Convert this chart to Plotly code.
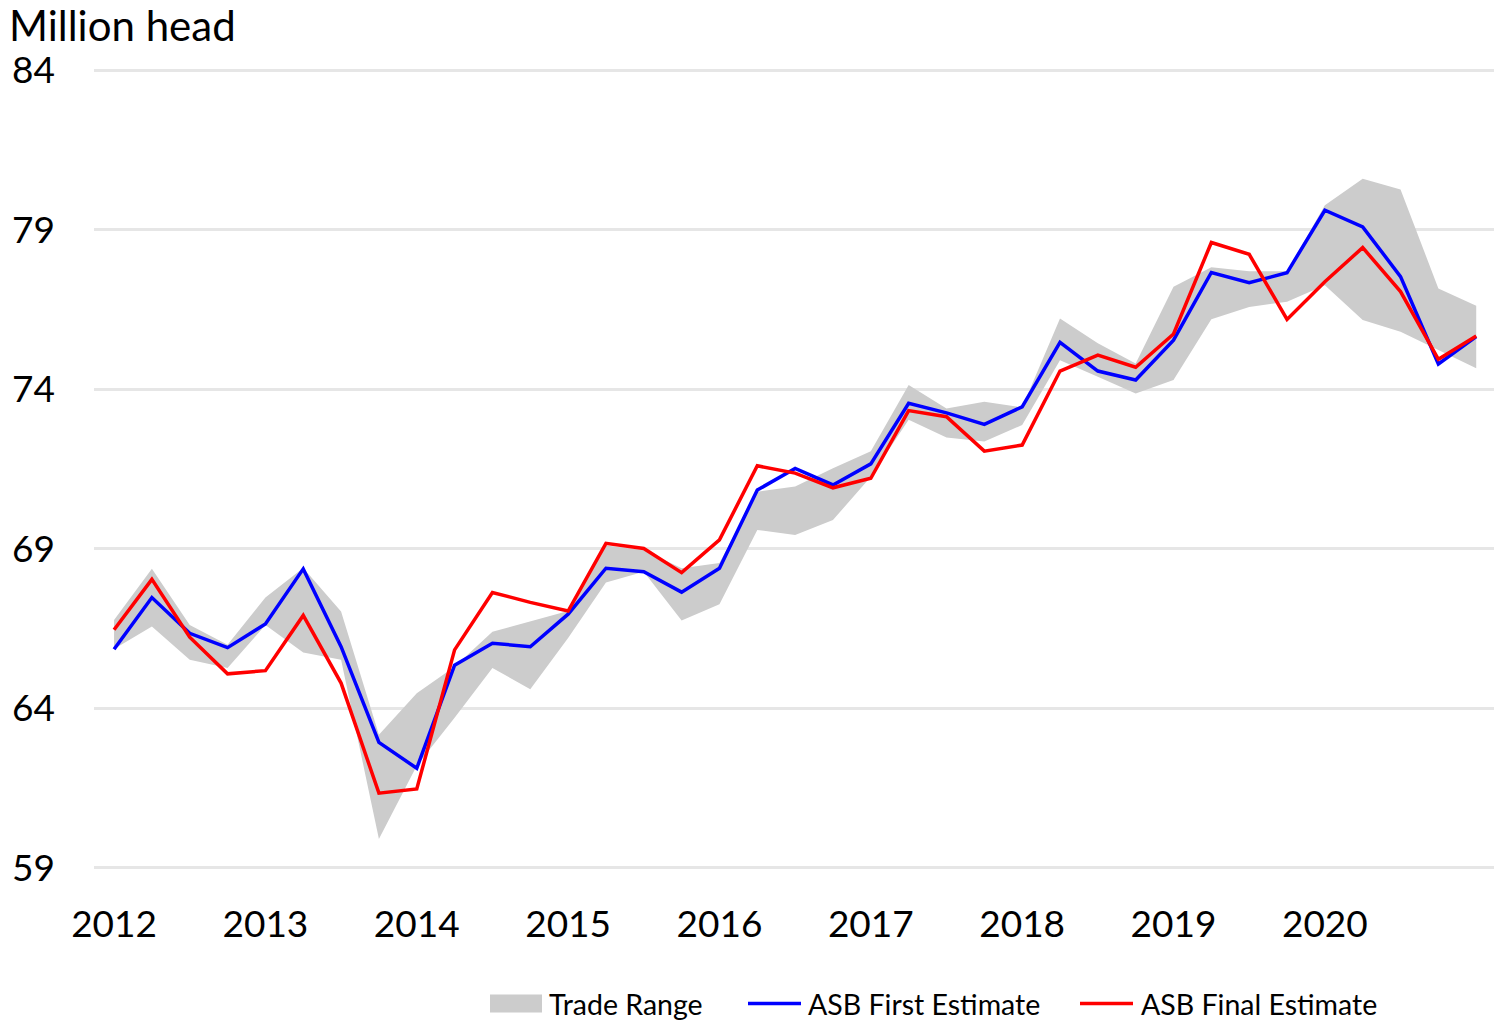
import plotly.graph_objects as go

# Quarterly observations, 2012 Q1 .. 2021 Q1
quarter_idx = list(range(37))
year_ticks = [0, 4, 8, 12, 16, 20, 24, 28, 32]
year_labels = ["2012", "2013", "2014", "2015", "2016", "2017", "2018", "2019", "2020"]
y_ticks = [59, 64, 69, 74, 79, 84]

asb_first = [65.85, 67.47, 66.35, 65.90, 66.64, 68.37, 65.93, 62.93, 62.12, 65.35,
             66.04, 65.93, 66.95, 68.39, 68.28, 67.64, 68.39, 70.84, 71.52, 71.00,
             71.66, 73.56, 73.26, 72.90, 73.45, 75.47, 74.57, 74.29, 75.54, 77.66,
             77.34, 77.65, 79.61, 79.09, 77.53, 74.79, 75.65]

asb_final = [66.46, 68.04, 66.23, 65.08, 65.18, 66.91, 64.79, 61.34, 61.47, 65.83,
             67.63, 67.32, 67.05, 69.17, 69.01, 68.25, 69.28, 71.60, 71.37, 70.91,
             71.21, 73.33, 73.14, 72.06, 72.25, 74.57, 75.07, 74.69, 75.73, 78.60,
             78.23, 76.19, 77.37, 78.44, 77.06, 74.94, 75.67]

trade_high = [66.77, 68.37, 66.61, 65.99, 67.47, 68.40, 67.03, 63.17, 64.47, 65.30,
              66.40, 66.72, 67.05, 69.10, 68.96, 68.39, 68.55, 70.79, 70.95, 71.52,
              72.06, 74.13, 73.40, 73.61, 73.43, 76.22, 75.44, 74.81, 77.21, 77.82,
              77.70, 77.70, 79.77, 80.60, 80.26, 77.16, 76.62]

trade_low = [65.86, 66.56, 65.52, 65.26, 66.61, 65.75, 65.52, 59.90, 62.20, 63.70,
             65.26, 64.60, 66.20, 67.94, 68.28, 66.75, 67.26, 69.59, 69.43, 69.90,
             71.26, 73.04, 72.49, 72.36, 72.88, 74.91, 74.39, 73.87, 74.29, 76.19,
             76.58, 76.74, 77.26, 76.17, 75.80, 75.23, 74.66]

legend_names = ["Trade Range", "ASB First Estimate", "ASB Final Estimate"]
BAND_COLOR = "#cccccc"
FIRST_COLOR = "#0000ff"
FINAL_COLOR = "#ff0000"
FONT = "Lato"

W, H = 1494, 1024
M_L, M_R, M_T, M_B = 94, 0, 67, 153
PW, PH = W - M_L - M_R, H - M_T - M_B


def px_x(px):
    return (px - M_L) / PW


def px_y(py):
    return (H - M_B - py) / PH


fig = go.Figure()
fig.add_trace(go.Scatter(x=quarter_idx, y=trade_low, mode="lines",
                         line=dict(width=0, color=BAND_COLOR),
                         showlegend=False, hoverinfo="skip"))
fig.add_trace(go.Scatter(x=quarter_idx, y=trade_high, mode="lines",
                         line=dict(width=0, color=BAND_COLOR),
                         fill="tonexty", fillcolor=BAND_COLOR,
                         name=legend_names[0], showlegend=False))
fig.add_trace(go.Scatter(x=quarter_idx, y=asb_first, mode="lines",
                         line=dict(width=3.5, color=FIRST_COLOR),
                         name=legend_names[1], showlegend=False))
fig.add_trace(go.Scatter(x=quarter_idx, y=asb_final, mode="lines",
                         line=dict(width=3.5, color=FINAL_COLOR),
                         name=legend_names[2], showlegend=False))

# Legend (drawn as key shapes + labels below the plot)
leg_y = 1003.5
fig.add_shape(type="rect", xref="paper", yref="paper",
              x0=px_x(490), x1=px_x(542), y0=px_y(1012.5), y1=px_y(994.5),
              fillcolor=BAND_COLOR, line=dict(width=0))
fig.add_shape(type="line", xref="paper", yref="paper",
              x0=px_x(748), x1=px_x(801), y0=px_y(leg_y), y1=px_y(leg_y),
              line=dict(color=FIRST_COLOR, width=3.5))
fig.add_shape(type="line", xref="paper", yref="paper",
              x0=px_x(1080), x1=px_x(1133), y0=px_y(leg_y), y1=px_y(leg_y),
              line=dict(color=FINAL_COLOR, width=3.5))
for name, x_px in zip(legend_names, [547, 806, 1139]):
    fig.add_annotation(text=name, xref="paper", yref="paper",
                       x=px_x(x_px), y=px_y(leg_y), xanchor="left", yanchor="middle",
                       showarrow=False, font=dict(family=FONT, size=28.5, color="black"))

fig.update_layout(
    width=W, height=H,
    margin=dict(l=M_L, r=M_R, t=M_T, b=M_B, autoexpand=False),
    plot_bgcolor="white", paper_bgcolor="white",
    font=dict(family=FONT, color="black", size=37),
    showlegend=False,
    title=dict(text="Million head", xref="container", yref="container",
               x=9 / W, xanchor="left", y=1 - 26 / H, yanchor="middle",
               font=dict(family=FONT, size=42, color="black")),
    xaxis=dict(range=[-0.53, 36.47], tickmode="array", tickvals=year_ticks,
               ticktext=year_labels, showgrid=False, zeroline=False,
               showline=False, ticks="", ticklabelstandoff=28,
               tickfont=dict(family=FONT, size=37, color="black")),
    yaxis=dict(range=[58.9, 84.1], tickmode="array", tickvals=y_ticks,
               showgrid=True, gridcolor="#e6e6e6", gridwidth=3, zeroline=False,
               showline=False, ticks="", ticklabelstandoff=38,
               tickfont=dict(family=FONT, size=37, color="black")),
    hovermode=False,
)

fig.write_html("out.html", config={"displayModeBar": False},
               post_script="document.body.style.margin='0';")
